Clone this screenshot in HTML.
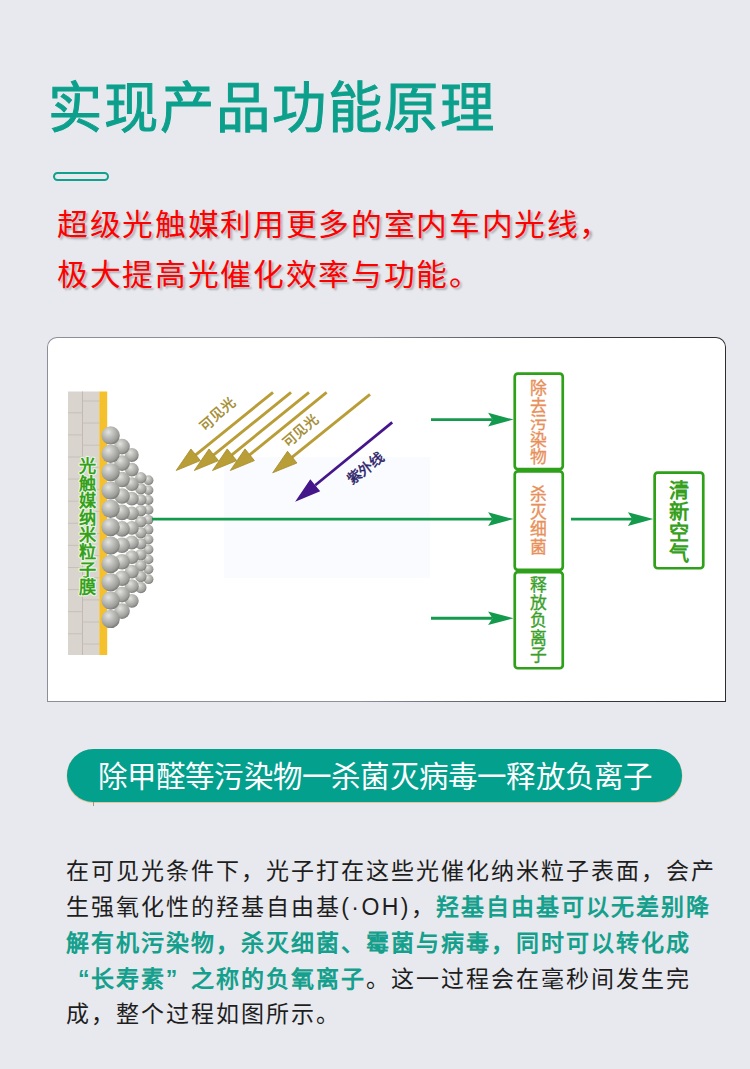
<!DOCTYPE html>
<html lang="zh-CN"><head><meta charset="utf-8">
<style>
*{margin:0;padding:0;box-sizing:border-box}
html,body{width:750px;height:1069px;overflow:hidden;background:#e8e9ee;font-family:"Liberation Sans",sans-serif}
.abs{position:absolute;white-space:nowrap}
#title{left:48px;top:74.3px;font-size:54.3px;letter-spacing:2.05px;font-weight:400;color:#0ca08c;line-height:70px;-webkit-text-stroke:1px #0ca08c}
#bar{left:53px;top:172px;width:56px;height:9px;border:2px solid #11a08e;border-radius:5px}
.red{left:57px;font-size:29.6px;margin-top:1px;color:#f00;letter-spacing:1.4px;transform:scaleX(1.04);transform-origin:0 0;text-shadow:2px 2px 2px rgba(0,0,0,.25);line-height:40px}
#r1{top:204px}
#r2{top:254px}
#box{left:47px;top:337px;width:679px;height:365px;background:linear-gradient(90deg,#8c8e98 0%,#8e9099 46%,#3a3a3c 80%,#2e2e30 100%);border-radius:10px 10px 0 0}
#boxi{position:absolute;left:1px;top:1px;right:1px;bottom:1px;background:#fff;border-radius:9px 9px 0 0}
#pill{left:66.8px;top:749.3px;width:614.8px;height:52.6px;background:#03a08e;border-radius:26.3px;box-shadow:0 0.6px 0.6px 0.4px #e8c49a}
#tick{left:92.8px;top:802px;width:1px;height:3.5px;background:#a89878}
#pilltxt{left:97.6px;top:757.3px;font-size:29.5px;color:#fff;letter-spacing:-0.8px;line-height:40px}
.p{left:66px;font-size:23px;color:#1e1e1e;letter-spacing:2.02px;line-height:36px}
.q1,.q2{display:inline-block;width:24.8px;letter-spacing:0}
.q1{text-align:right;padding-right:1.2px}
.q2{text-align:left}
.t{color:#14a08c;font-weight:700}
</style></head><body>
<div class="abs" id="title">实现产品功能原理</div>
<div class="abs" id="bar"></div>
<div class="abs red" id="r1">超级光触媒利用更多的室内车内光线，</div>
<div class="abs red" id="r2">极大提高光催化效率与功能。</div>
<div class="abs" id="box"><div id="boxi"></div></div>
<svg class="abs" style="left:0;top:0" width="750" height="1069" viewBox="0 0 750 1069">
<defs>
<radialGradient id="sph" cx="0.38" cy="0.32" r="0.72">
<stop offset="0" stop-color="#e2e4e0"/><stop offset="0.35" stop-color="#c2c2be"/><stop offset="0.78" stop-color="#9c9c98"/><stop offset="1" stop-color="#727270"/>
</radialGradient>
</defs>
<rect x="224" y="457" width="206" height="121" fill="#fafbfe"/>
<rect x="68" y="391.5" width="31.5" height="263.5" fill="#d9d4ce"/>
<line x1="82.5" y1="391.5" x2="82.5" y2="655" stroke="#bdb7b0" stroke-width="0.9"/>
<line x1="68" y1="412.8" x2="82.5" y2="412.8" stroke="#c4beb7" stroke-width="0.9"/>
<line x1="68" y1="434.9" x2="82.5" y2="434.9" stroke="#c4beb7" stroke-width="0.9"/>
<line x1="68" y1="457.0" x2="82.5" y2="457.0" stroke="#c4beb7" stroke-width="0.9"/>
<line x1="68" y1="479.1" x2="82.5" y2="479.1" stroke="#c4beb7" stroke-width="0.9"/>
<line x1="68" y1="501.2" x2="82.5" y2="501.2" stroke="#c4beb7" stroke-width="0.9"/>
<line x1="68" y1="523.3" x2="82.5" y2="523.3" stroke="#c4beb7" stroke-width="0.9"/>
<line x1="68" y1="545.4" x2="82.5" y2="545.4" stroke="#c4beb7" stroke-width="0.9"/>
<line x1="68" y1="567.5" x2="82.5" y2="567.5" stroke="#c4beb7" stroke-width="0.9"/>
<line x1="68" y1="589.6" x2="82.5" y2="589.6" stroke="#c4beb7" stroke-width="0.9"/>
<line x1="68" y1="611.7" x2="82.5" y2="611.7" stroke="#c4beb7" stroke-width="0.9"/>
<line x1="68" y1="633.8" x2="82.5" y2="633.8" stroke="#c4beb7" stroke-width="0.9"/>
<line x1="82.5" y1="401.0" x2="99.5" y2="401.0" stroke="#c4beb7" stroke-width="0.9"/>
<line x1="82.5" y1="423.1" x2="99.5" y2="423.1" stroke="#c4beb7" stroke-width="0.9"/>
<line x1="82.5" y1="445.2" x2="99.5" y2="445.2" stroke="#c4beb7" stroke-width="0.9"/>
<line x1="82.5" y1="467.3" x2="99.5" y2="467.3" stroke="#c4beb7" stroke-width="0.9"/>
<line x1="82.5" y1="489.4" x2="99.5" y2="489.4" stroke="#c4beb7" stroke-width="0.9"/>
<line x1="82.5" y1="511.5" x2="99.5" y2="511.5" stroke="#c4beb7" stroke-width="0.9"/>
<line x1="82.5" y1="533.6" x2="99.5" y2="533.6" stroke="#c4beb7" stroke-width="0.9"/>
<line x1="82.5" y1="555.7" x2="99.5" y2="555.7" stroke="#c4beb7" stroke-width="0.9"/>
<line x1="82.5" y1="577.8" x2="99.5" y2="577.8" stroke="#c4beb7" stroke-width="0.9"/>
<line x1="82.5" y1="599.9" x2="99.5" y2="599.9" stroke="#c4beb7" stroke-width="0.9"/>
<line x1="82.5" y1="622.0" x2="99.5" y2="622.0" stroke="#c4beb7" stroke-width="0.9"/>
<line x1="82.5" y1="644.1" x2="99.5" y2="644.1" stroke="#c4beb7" stroke-width="0.9"/>
<rect x="99.3" y="391.5" width="7.9" height="263.5" fill="#f4c12c"/>
<circle cx="148.5" cy="480.2" r="4.9" fill="url(#sph)"/>
<circle cx="148.5" cy="490.1" r="4.9" fill="url(#sph)"/>
<circle cx="148.5" cy="500.0" r="4.9" fill="url(#sph)"/>
<circle cx="148.5" cy="509.9" r="4.9" fill="url(#sph)"/>
<circle cx="148.5" cy="519.8" r="4.9" fill="url(#sph)"/>
<circle cx="148.5" cy="529.7" r="4.9" fill="url(#sph)"/>
<circle cx="148.5" cy="539.6" r="4.9" fill="url(#sph)"/>
<circle cx="148.5" cy="549.5" r="4.9" fill="url(#sph)"/>
<circle cx="148.5" cy="559.4" r="4.9" fill="url(#sph)"/>
<circle cx="148.5" cy="569.3" r="4.9" fill="url(#sph)"/>
<circle cx="148.5" cy="579.2" r="4.9" fill="url(#sph)"/>
<circle cx="140.8" cy="477.7" r="5.7" fill="url(#sph)"/>
<circle cx="140.8" cy="488.7" r="5.7" fill="url(#sph)"/>
<circle cx="140.8" cy="499.7" r="5.7" fill="url(#sph)"/>
<circle cx="140.8" cy="510.6" r="5.7" fill="url(#sph)"/>
<circle cx="140.8" cy="521.6" r="5.7" fill="url(#sph)"/>
<circle cx="140.8" cy="532.6" r="5.7" fill="url(#sph)"/>
<circle cx="140.8" cy="543.6" r="5.7" fill="url(#sph)"/>
<circle cx="140.8" cy="554.6" r="5.7" fill="url(#sph)"/>
<circle cx="140.8" cy="565.5" r="5.7" fill="url(#sph)"/>
<circle cx="140.8" cy="576.5" r="5.7" fill="url(#sph)"/>
<circle cx="140.8" cy="587.5" r="5.7" fill="url(#sph)"/>
<circle cx="131.8" cy="455.0" r="6.9" fill="url(#sph)"/>
<circle cx="131.8" cy="469.6" r="6.9" fill="url(#sph)"/>
<circle cx="131.8" cy="484.2" r="6.9" fill="url(#sph)"/>
<circle cx="131.8" cy="498.7" r="6.9" fill="url(#sph)"/>
<circle cx="131.8" cy="513.3" r="6.9" fill="url(#sph)"/>
<circle cx="131.8" cy="527.9" r="6.9" fill="url(#sph)"/>
<circle cx="131.8" cy="542.5" r="6.9" fill="url(#sph)"/>
<circle cx="131.8" cy="557.1" r="6.9" fill="url(#sph)"/>
<circle cx="131.8" cy="571.6" r="6.9" fill="url(#sph)"/>
<circle cx="131.8" cy="586.2" r="6.9" fill="url(#sph)"/>
<circle cx="131.8" cy="600.8" r="6.9" fill="url(#sph)"/>
<circle cx="122.0" cy="446.6" r="7.8" fill="url(#sph)"/>
<circle cx="122.0" cy="463.1" r="7.8" fill="url(#sph)"/>
<circle cx="122.0" cy="479.5" r="7.8" fill="url(#sph)"/>
<circle cx="122.0" cy="496.0" r="7.8" fill="url(#sph)"/>
<circle cx="122.0" cy="512.4" r="7.8" fill="url(#sph)"/>
<circle cx="122.0" cy="528.9" r="7.8" fill="url(#sph)"/>
<circle cx="122.0" cy="545.3" r="7.8" fill="url(#sph)"/>
<circle cx="122.0" cy="561.8" r="7.8" fill="url(#sph)"/>
<circle cx="122.0" cy="578.2" r="7.8" fill="url(#sph)"/>
<circle cx="122.0" cy="594.6" r="7.8" fill="url(#sph)"/>
<circle cx="122.0" cy="611.1" r="7.8" fill="url(#sph)"/>
<circle cx="110.6" cy="435.4" r="9.2" fill="url(#sph)"/>
<circle cx="110.6" cy="453.8" r="9.2" fill="url(#sph)"/>
<circle cx="110.6" cy="472.1" r="9.2" fill="url(#sph)"/>
<circle cx="110.6" cy="490.4" r="9.2" fill="url(#sph)"/>
<circle cx="110.6" cy="508.8" r="9.2" fill="url(#sph)"/>
<circle cx="110.6" cy="527.1" r="9.2" fill="url(#sph)"/>
<circle cx="110.6" cy="545.5" r="9.2" fill="url(#sph)"/>
<circle cx="110.6" cy="563.9" r="9.2" fill="url(#sph)"/>
<circle cx="110.6" cy="582.2" r="9.2" fill="url(#sph)"/>
<circle cx="110.6" cy="600.5" r="9.2" fill="url(#sph)"/>
<circle cx="110.6" cy="618.9" r="9.2" fill="url(#sph)"/>
<g stroke="#eaf6e2" stroke-width="2.2" stroke-linejoin="round" paint-order="stroke">
<text x="87.6" y="472.3" font-size="17.2" style="font-weight:700" fill="#35a01c" text-anchor="middle">光</text>
<text x="87.6" y="489.5" font-size="17.2" style="font-weight:700" fill="#35a01c" text-anchor="middle">触</text>
<text x="87.6" y="506.7" font-size="17.2" style="font-weight:700" fill="#35a01c" text-anchor="middle">媒</text>
<text x="87.6" y="523.9" font-size="17.2" style="font-weight:700" fill="#35a01c" text-anchor="middle">纳</text>
<text x="87.6" y="541.1" font-size="17.2" style="font-weight:700" fill="#35a01c" text-anchor="middle">米</text>
<text x="87.6" y="558.3" font-size="17.2" style="font-weight:700" fill="#35a01c" text-anchor="middle">粒</text>
<text x="87.6" y="575.5" font-size="17.2" style="font-weight:700" fill="#35a01c" text-anchor="middle">子</text>
<text x="87.6" y="592.7" font-size="17.2" style="font-weight:700" fill="#35a01c" text-anchor="middle">膜</text>
</g>
<line x1="273.0" y1="392.4" x2="195.7" y2="454.8" stroke="#b99d36" stroke-width="2.9"/><polygon points="176.2,470.5 190.9,449.0 195.7,454.8 200.4,460.6" fill="#b99d36" stroke="#a38a28" stroke-width="0.8" stroke-linejoin="round"/>
<line x1="291.0" y1="392.4" x2="213.7" y2="454.8" stroke="#b99d36" stroke-width="2.9"/><polygon points="194.3,470.5 209.0,449.0 213.7,454.8 218.5,460.6" fill="#b99d36" stroke="#a38a28" stroke-width="0.8" stroke-linejoin="round"/>
<line x1="309.0" y1="392.4" x2="231.9" y2="454.8" stroke="#b99d36" stroke-width="2.9"/><polygon points="212.5,470.5 227.2,448.9 231.9,454.8 236.7,460.6" fill="#b99d36" stroke="#a38a28" stroke-width="0.8" stroke-linejoin="round"/>
<line x1="326.6" y1="392.4" x2="249.7" y2="454.8" stroke="#b99d36" stroke-width="2.9"/><polygon points="230.3,470.5 245.0,448.9 249.7,454.8 254.4,460.6" fill="#b99d36" stroke="#a38a28" stroke-width="0.8" stroke-linejoin="round"/>
<line x1="370.0" y1="394.4" x2="292.2" y2="457.1" stroke="#b99d36" stroke-width="2.9"/><polygon points="272.7,472.8 287.5,451.3 292.2,457.1 296.9,463.0" fill="#b99d36" stroke="#a38a28" stroke-width="0.8" stroke-linejoin="round"/>
<line x1="392.2" y1="422.4" x2="315.2" y2="485.3" stroke="#44168a" stroke-width="2.7"/><polygon points="295.1,501.7 310.3,479.2 315.2,485.3 320.2,491.3" fill="#44168a"/>
<text transform="translate(217.5,414.5) rotate(-41)" font-size="13.8" fill="#a08828" stroke="#a08828" stroke-width="0.4" text-anchor="middle" dominant-baseline="central">可见光</text>
<text transform="translate(300.5,431) rotate(-41)" font-size="13.8" fill="#a08828" stroke="#a08828" stroke-width="0.4" text-anchor="middle" dominant-baseline="central">可见光</text>
<text transform="translate(365,468.3) rotate(-38)" font-size="14.2" fill="#2a2168" stroke="#2a2168" stroke-width="0.45" text-anchor="middle" dominant-baseline="central">紫外线</text>
<line x1="152.0" y1="519.1" x2="492.5" y2="519.1" stroke="#149a4c" stroke-width="2.9"/><polygon points="513.6,519.1 488.1,525.9 492.5,519.1 488.1,512.3" fill="#149a4c"/>
<line x1="431.0" y1="419.6" x2="492.5" y2="419.6" stroke="#149a4c" stroke-width="2.9"/><polygon points="513.6,419.6 488.1,426.4 492.5,419.6 488.1,412.8" fill="#149a4c"/>
<line x1="431.0" y1="618.2" x2="492.5" y2="618.2" stroke="#149a4c" stroke-width="2.9"/><polygon points="513.6,618.2 488.1,625.0 492.5,618.2 488.1,611.4" fill="#149a4c"/>
<line x1="571.0" y1="519.1" x2="632.3" y2="519.1" stroke="#149a4c" stroke-width="2.9"/><polygon points="653.4,519.1 627.9,525.9 632.3,519.1 627.9,512.3" fill="#149a4c"/>
<rect x="514.75" y="373.65" width="48.00" height="95.40" rx="3" fill="#fff" stroke="#2ea01a" stroke-width="2.7"/>
<rect x="514.75" y="471.35" width="48.00" height="98.50" rx="3" fill="#fff" stroke="#2ea01a" stroke-width="2.7"/>
<rect x="514.75" y="572.15" width="48.00" height="96.10" rx="3" fill="#fff" stroke="#2ea01a" stroke-width="2.7"/>
<rect x="654.65" y="472.55" width="48.60" height="95.70" rx="3" fill="#fff" stroke="#2ea01a" stroke-width="2.7"/>
<text x="538.6" y="394.4" font-size="16.8" style="font-weight:400" fill="#e8905a" stroke="#e8905a" stroke-width="0.35" text-anchor="middle">除</text><text x="538.6" y="411.6" font-size="16.8" style="font-weight:400" fill="#e8905a" stroke="#e8905a" stroke-width="0.35" text-anchor="middle">去</text><text x="538.6" y="428.8" font-size="16.8" style="font-weight:400" fill="#e8905a" stroke="#e8905a" stroke-width="0.35" text-anchor="middle">污</text><text x="538.6" y="446.0" font-size="16.8" style="font-weight:400" fill="#e8905a" stroke="#e8905a" stroke-width="0.35" text-anchor="middle">染</text><text x="538.6" y="463.2" font-size="16.8" style="font-weight:400" fill="#e8905a" stroke="#e8905a" stroke-width="0.35" text-anchor="middle">物</text>
<text x="538.6" y="500.4" font-size="16.8" style="font-weight:400" fill="#e8905a" stroke="#e8905a" stroke-width="0.35" text-anchor="middle">杀</text><text x="538.6" y="517.9" font-size="16.8" style="font-weight:400" fill="#e8905a" stroke="#e8905a" stroke-width="0.35" text-anchor="middle">灭</text><text x="538.6" y="535.4" font-size="16.8" style="font-weight:400" fill="#e8905a" stroke="#e8905a" stroke-width="0.35" text-anchor="middle">细</text><text x="538.6" y="552.9" font-size="16.8" style="font-weight:400" fill="#e8905a" stroke="#e8905a" stroke-width="0.35" text-anchor="middle">菌</text>
<text x="538.6" y="591.4" font-size="16.8" style="font-weight:400" fill="#3aa02a" stroke="#3aa02a" stroke-width="0.35" text-anchor="middle">释</text><text x="538.6" y="608.8" font-size="16.8" style="font-weight:400" fill="#3aa02a" stroke="#3aa02a" stroke-width="0.35" text-anchor="middle">放</text><text x="538.6" y="626.2" font-size="16.8" style="font-weight:400" fill="#3aa02a" stroke="#3aa02a" stroke-width="0.35" text-anchor="middle">负</text><text x="538.6" y="643.6" font-size="16.8" style="font-weight:400" fill="#3aa02a" stroke="#3aa02a" stroke-width="0.35" text-anchor="middle">离</text><text x="538.6" y="661.0" font-size="16.8" style="font-weight:400" fill="#3aa02a" stroke="#3aa02a" stroke-width="0.35" text-anchor="middle">子</text>
<text x="679.4" y="497.9" font-size="20.2" style="font-weight:700" fill="#36a01c" text-anchor="middle">清</text><text x="679.4" y="518.8" font-size="20.2" style="font-weight:700" fill="#36a01c" text-anchor="middle">新</text><text x="679.4" y="539.7" font-size="20.2" style="font-weight:700" fill="#36a01c" text-anchor="middle">空</text><text x="679.4" y="560.6" font-size="20.2" style="font-weight:700" fill="#36a01c" text-anchor="middle">气</text>
</svg>
<div class="abs" id="pill"></div><div class="abs" id="tick"></div>
<div class="abs" id="pilltxt">除甲醛等污染物一杀菌灭病毒一释放负离子</div>
<div class="abs p" style="top:853.2px">在可见光条件下，光子打在这些光催化纳米粒子表面，会产</div>
<div class="abs p" style="top:889.0px">生强氧化性的羟基自由基<span style="letter-spacing:2.45px">(·OH)</span>，<span class="t">羟基自由基可以无差别降</span></div>
<div class="abs p" style="top:924.8px"><span class="t">解有机污染物，杀灭细菌、霉菌与病毒，同时可以转化成</span></div>
<div class="abs p" style="top:960.6px"><span class="t"><span class="q1">“</span>长寿素<span class="q2">”</span>之称的负氧离子</span>。这一过程会在毫秒间发生完</div>
<div class="abs p" style="top:996.4px">成，整个过程如图所示。</div>
</body></html>
